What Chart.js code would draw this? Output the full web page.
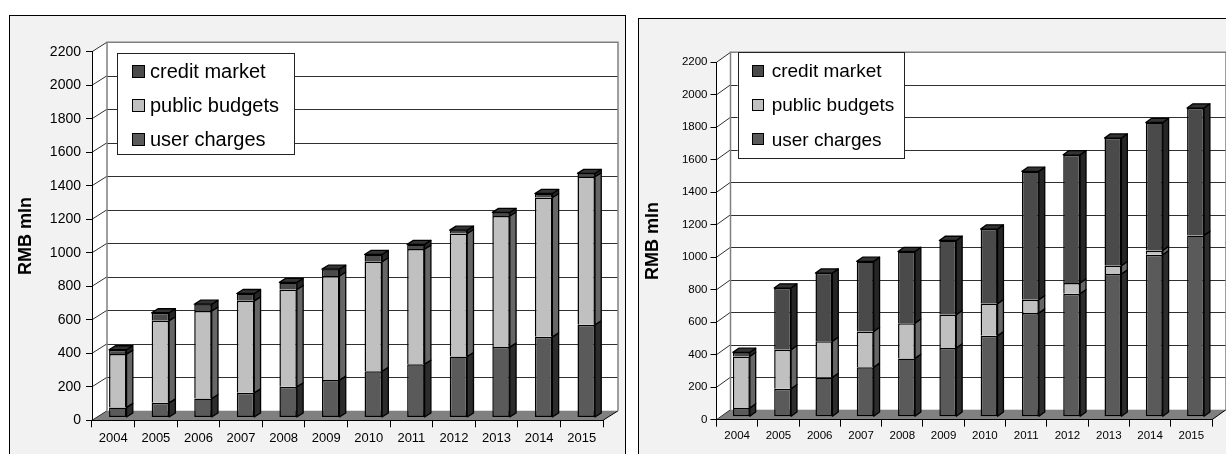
<!DOCTYPE html>
<html>
<head>
<meta charset="utf-8">
<script src="https://cdn.jsdelivr.net/npm/chart.js@4/dist/chart.umd.min.js"></script>
<style>
  html, body { margin: 0; padding: 0; background: #fff; width: 1226px; height: 454px; overflow: hidden; position: relative; }
  .frame { position: absolute; box-sizing: border-box; border: 1px solid #000; background: #f2f2f2; }
  #frameA { left: 9px; top: 15px; width: 617px; height: 470px; }
  #frameB { left: 638px; top: 18px; width: 620px; height: 470px; }
  .wrap { position: absolute; top: 0; height: 454px; }
  #wrapA { left: 0; width: 630px; }
  #wrapB { left: 620px; width: 606px; }
</style>
</head>
<body>
<div class="frame" id="frameA"></div>
<div class="frame" id="frameB"></div>
<div class="wrap" id="wrapA"><canvas id="chartA" width="630" height="454"></canvas></div>
<div class="wrap" id="wrapB"><canvas id="chartB" width="606" height="454"></canvas></div>
<script>
// Categories and tick values shared by both charts
const years = ['2004', '2005', '2006', '2007', '2008', '2009', '2010', '2011', '2012', '2013', '2014', '2015'];
const yTickValues = [0, 200, 400, 600, 800, 1000, 1200, 1400, 1600, 1800, 2000, 2200];
const axisTitle = 'RMB mln';
const seriesNames = ['user charges', 'public budgets', 'credit market'];

// Financing mix, first scenario (RMB mln)
const userChargesA   = [60, 87, 113, 147, 183, 223, 276, 318, 364, 420, 481, 553];
const publicBudgetsA = [318, 490, 522, 549, 581, 621, 653, 687, 734, 782, 832, 884];
const creditMarketA  = [26, 48, 41, 44, 42, 41, 44, 28, 20, 22, 24, 20];

// Financing mix, second scenario (RMB mln)
const userChargesB   = [54, 172, 242, 304, 359, 423, 498, 638, 757, 878, 997, 1116];
const publicBudgetsB = [317, 240, 222, 221, 217, 205, 197, 82, 66, 51, 26, 0];
const creditMarketB  = [25, 380, 420, 431, 441, 457, 460, 790, 789, 786, 788, 784];

const FONT = "'Liberation Sans', Arial, sans-serif";

// Shades for front, side and top faces of each series
const shades = {
  'user charges':   { front: '#5a5a5a', side: '#2c2c2c', top: '#3c3c3c' },
  'public budgets': { front: '#c0c0c0', side: '#666666', top: '#9a9a9a' },
  'credit market':  { front: '#4a4a4a', side: '#262626', top: '#333333' }
};

// Walls, floor and the extruded faces of the bars
const depthPlugin = {
  id: 'depth3d',
  beforeDraw(chart, args, o) {
    const { ctx, chartArea: a } = chart;
    const y = chart.scales.y;
    const dx = o.dx, dy = o.dy;
    const y0 = y.getPixelForValue(0);
    const yTop = y.getPixelForValue(y.max);
    ctx.save();
    ctx.fillStyle = '#ffffff';
    // side wall
    ctx.beginPath();
    ctx.moveTo(a.left, yTop); ctx.lineTo(a.left + dx, yTop - dy);
    ctx.lineTo(a.left + dx, y0 - dy); ctx.lineTo(a.left, y0);
    ctx.closePath(); ctx.fill();
    // back wall
    ctx.fillRect(a.left + dx, yTop - dy, a.right - a.left, y0 - yTop);
    // floor
    ctx.fillStyle = '#808080';
    ctx.beginPath();
    ctx.moveTo(a.left, y0); ctx.lineTo(a.right, y0);
    ctx.lineTo(a.right + dx, y0 - dy); ctx.lineTo(a.left + dx, y0 - dy);
    ctx.closePath(); ctx.fill();
    // gridlines on back wall, diagonals on side wall
    ctx.lineWidth = 1;
    ctx.strokeStyle = '#303030';
    y.ticks.forEach(t => {
      const fy = y.getPixelForValue(t.value);
      const by = Math.round(fy - dy) + 0.5;
      if (t.value !== 0) {
        ctx.beginPath(); ctx.moveTo(a.left + dx, by); ctx.lineTo(a.right + dx, by); ctx.stroke();
      }
      ctx.beginPath(); ctx.moveTo(a.left, fy); ctx.lineTo(a.left + dx, fy - dy); ctx.stroke();
    });
    // right edge of floor
    ctx.strokeStyle = '#000';
    ctx.beginPath(); ctx.moveTo(a.right, y0); ctx.lineTo(a.right + dx, y0 - dy); ctx.stroke();
    // back wall outline
    ctx.strokeStyle = '#808080';
    ctx.lineWidth = 1.5;
    ctx.beginPath();
    ctx.moveTo(a.left + dx, y0 - dy); ctx.lineTo(a.left + dx, yTop - dy);
    ctx.lineTo(a.right + dx, yTop - dy); ctx.lineTo(a.right + dx, y0 - dy);
    ctx.stroke();
    ctx.restore();
  },
  beforeDatasetsDraw(chart, args, o) {
    chart.ctx.save();
    chart.ctx.translate(o.dx * o.front, -o.dy * o.front);
  },
  afterDatasetsDraw(chart, args, o) {
    const ctx = chart.ctx;
    const bx = o.dx * o.depth, by = o.dy * o.depth;
    const poly = (pts, fill) => {
      ctx.beginPath();
      ctx.moveTo(pts[0][0], pts[0][1]);
      for (let k = 1; k < pts.length; k++) ctx.lineTo(pts[k][0], pts[k][1]);
      ctx.closePath();
      ctx.fillStyle = fill; ctx.fill();
      ctx.strokeStyle = '#000'; ctx.lineWidth = 1.3; ctx.lineJoin = 'round'; ctx.stroke();
    };
    const n = chart.data.labels.length;
    const topSeg = new Array(n).fill(null);
    chart.data.datasets.forEach((ds, di) => {
      const meta = chart.getDatasetMeta(di);
      const sh = shades[ds.label];
      meta.data.forEach((el, i) => {
        const p = el.getProps(['x', 'y', 'base', 'width'], true);
        if (Math.abs(p.base - p.y) < 0.5) return;
        const l = p.x - p.width / 2, r = p.x + p.width / 2;
        poly([[r, p.y], [r + bx, p.y - by], [r + bx, p.base - by], [r, p.base]], sh.side);
        topSeg[i] = { l, r, t: p.y, color: sh.top };
      });
    });
    topSeg.forEach(s => {
      if (!s) return;
      poly([[s.l, s.t], [s.l + bx, s.t - by], [s.r + bx, s.t - by], [s.r, s.t]], s.color);
    });
    ctx.restore();
  }
};

// Boxed legend floating over the plot
const boxLegend = {
  id: 'boxLegend',
  afterDraw(chart, args, o) {
    const ctx = chart.ctx;
    ctx.save();
    ctx.fillStyle = '#fff';
    ctx.fillRect(o.x, o.y, o.w, o.h);
    ctx.strokeStyle = '#222'; ctx.lineWidth = 1;
    ctx.strokeRect(Math.round(o.x) + 0.5, Math.round(o.y) + 0.5, Math.round(o.w) - 1, Math.round(o.h) - 1);
    const items = chart.data.datasets.slice().reverse();
    items.forEach((ds, k) => {
      const cy = o.row0 + k * o.rowGap;
      const sx = Math.round(o.swX), sy = Math.round(cy - o.sw / 2);
      ctx.fillStyle = ds.backgroundColor;
      ctx.fillRect(sx, sy, o.sw, o.sw);
      ctx.strokeStyle = '#000';
      ctx.strokeRect(sx + 0.5, sy + 0.5, o.sw - 1, o.sw - 1);
      ctx.fillStyle = '#000';
      ctx.font = o.fontSize + 'px ' + FONT;
      ctx.textBaseline = 'middle';
      ctx.textAlign = 'left';
      ctx.fillText(ds.label, o.textX, cy + 1);
    });
    ctx.restore();
  }
};

function makeChart(id, series, g) {
  const datasets = series.map((vals, k) => ({
    label: seriesNames[k],
    data: vals,
    backgroundColor: shades[seriesNames[k]].front,
    borderColor: '#000',
    borderWidth: 1.5,
    borderSkipped: k === 0 ? false : 'start',
    barPercentage: 0.41,
    categoryPercentage: 1.0,
    clip: false
  }));
  return new Chart(document.getElementById(id), {
    type: 'bar',
    data: { labels: years, datasets },
    plugins: [depthPlugin, boxLegend],
    options: {
      responsive: false,
      animation: false,
      events: [],
      layout: { padding: { left: 0, top: g.top, right: g.right, bottom: 0 } },
      plugins: {
        legend: { display: false },
        tooltip: { enabled: false },
        depth3d: { dx: g.dx, dy: g.dy, front: 0.3, depth: 0.42 },
        boxLegend: g.legend
      },
      scales: {
        x: {
          stacked: true,
          grid: { offset: true, drawOnChartArea: false, drawTicks: true, tickLength: 7, color: '#000', lineWidth: 1 },
          border: { display: true, color: '#000', width: 1 },
          ticks: { color: '#000', font: { family: FONT, size: g.xFont }, padding: g.xPad, maxRotation: 0, autoSkip: false },
          afterFit: s => { s.height = g.xHeight; }
        },
        y: {
          stacked: true,
          min: 0,
          max: 2200,
          afterBuildTicks: s => { s.ticks = yTickValues.map(v => ({ value: v })); },
          grid: { drawOnChartArea: false, drawTicks: true, tickLength: 6, color: '#000', lineWidth: 1 },
          border: { display: true, color: '#000', width: 1 },
          ticks: { color: '#000', font: { family: FONT, size: g.yFont }, padding: g.yPad, callback: v => String(v) },
          title: { display: true, text: axisTitle, color: '#000', font: { family: FONT, size: 18, weight: 'bold' }, padding: { top: g.titlePad, bottom: 0 } },
          afterFit: s => { s.width = g.yWidth; }
        }
      }
    }
  });
}

makeChart('chartA', [userChargesA, publicBudgetsA, creditMarketA], {
  top: 51.7, right: 27, yWidth: 92, xHeight: 33.7,
  dx: 15, dy: 9.5, xFont: 13, yFont: 14, xPad: 3, yPad: 5, titlePad: 15,
  legend: { x: 117, y: 53, w: 178, h: 102, swX: 132, sw: 13, textX: 150, row0: 71, rowGap: 34, fontSize: 20 }
});

makeChart('chartB', [userChargesB, publicBudgetsB, creditMarketB], {
  top: 62.3, right: 14, yWidth: 96.5, xHeight: 34.3,
  dx: 14, dy: 10, xFont: 11.5, yFont: 11.5, xPad: 2, yPad: 3, titlePad: 22,
  legend: { x: 117.7, y: 52.3, w: 167.3, h: 106.7, swX: 132, sw: 12, textX: 151.7, row0: 70.7, rowGap: 34.3, fontSize: 19 }
});
</script>
</body>
</html>
